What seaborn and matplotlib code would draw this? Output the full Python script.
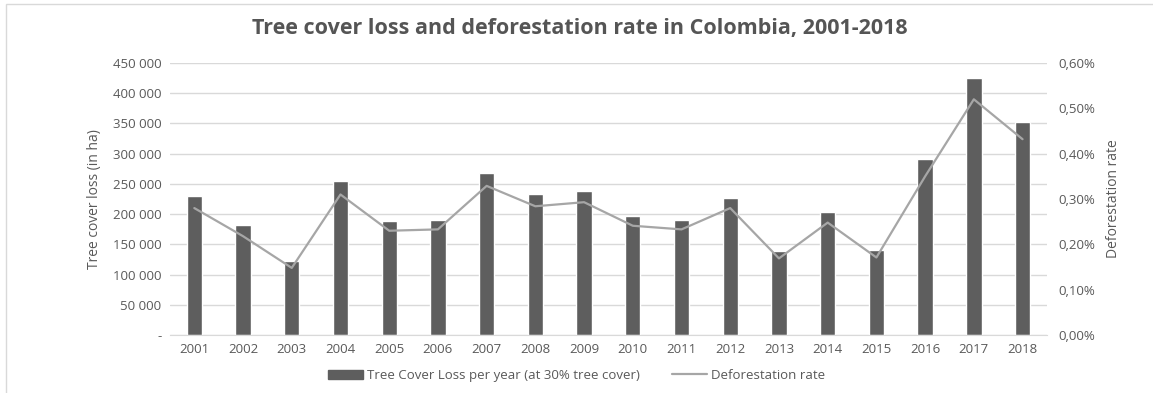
import numpy as np
import pandas as pd
import seaborn as sns
import matplotlib.pyplot as plt
from matplotlib.ticker import FuncFormatter
from matplotlib.patches import Patch, Rectangle
from matplotlib.lines import Line2D

# values
years = [str(y) for y in range(2001, 2019)]
tree_cover_loss = [230000, 182000, 123000, 255500, 189000, 190000, 268000, 233500,
                   238000, 196500, 190000, 227000, 139000, 203000, 141000, 291500,
                   425000, 353000]
deforestation_rate = [0.280, 0.218, 0.148, 0.310, 0.230, 0.233, 0.329, 0.284,
                      0.293, 0.241, 0.233, 0.280, 0.169, 0.248, 0.171, 0.350,
                      0.520, 0.432]

df = pd.DataFrame({"year": years, "loss": tree_cover_loss, "rate": deforestation_rate})
df["pos"] = np.arange(len(df))

sns.set_style("white")
plt.rcParams['font.family'] = ['Open Sans', 'DejaVu Sans']

txt = "#595959"
bar_col = "#5e5e5e"
line_col = "#a6a6a6"

fig = plt.figure(figsize=(11.53, 3.93), dpi=100)
ax = fig.add_axes([0.1474, 0.1476, 0.7606, 0.692])

sns.barplot(data=df, x="year", y="loss", color=bar_col, width=0.315,
            saturation=1, ax=ax, zorder=2)
ax.set_ylim(0, 450000)
ax.set_yticks(np.arange(0, 450001, 50000))
ax.yaxis.set_major_formatter(FuncFormatter(
    lambda v, p: "-" if v == 0 else f"{int(v):,}".replace(",", " ")))
ax.grid(axis="y", color="#d9d9d9", linewidth=1, zorder=0)
ax.set_axisbelow(True)
ax.set_xlabel("")
ax.set_ylabel("Tree cover loss (in ha)", color=txt, fontsize=10, labelpad=8)
for s in ["top", "right", "left"]:
    ax.spines[s].set_visible(False)
ax.spines["bottom"].set_color("#d9d9d9")
ax.tick_params(axis="both", length=0, colors=txt, labelsize=9.5, pad=6)

ax2 = ax.twinx()
sns.lineplot(data=df, x="pos", y="rate", color=line_col, linewidth=1.6, ax=ax2)
ax2.set_ylim(0, 0.6)
ax2.set_yticks(np.arange(0, 0.61, 0.1))
ax2.yaxis.set_major_formatter(FuncFormatter(lambda v, p: f"{v:.2f}%".replace(".", ",")))
ax2.set_ylabel("Deforestation rate", color=txt, fontsize=10, labelpad=8)
ax2.set_xlabel("")
for s in ax2.spines.values():
    s.set_visible(False)
ax2.tick_params(axis="y", length=0, colors=txt, labelsize=9.5, pad=8)
ax.set_xlim(-0.5, len(years) - 0.5)

fig.suptitle("Tree cover loss and deforestation rate in Colombia, 2001-2018",
             x=0.503, y=0.955, fontsize=15.5, fontweight="bold", color="#555555")

handles = [Patch(facecolor=bar_col, edgecolor=bar_col),
           Line2D([], [], color=line_col, linewidth=1.6)]
labels = ["Tree Cover Loss per year (at 30% tree cover)", "Deforestation rate"]
fig.legend(handles, labels, loc="center", bbox_to_anchor=(0.5, 0.045), ncol=2,
           frameon=False, fontsize=9.5, labelcolor=txt, handlelength=2.6,
           handletextpad=0.3, columnspacing=2.5)

fig.patches.append(Rectangle((0.005, -0.1), 1.2, 1.09, transform=fig.transFigure,
                             fill=False, edgecolor="#d9d9d9", linewidth=1))

fig.savefig("out.png", dpi=100)
